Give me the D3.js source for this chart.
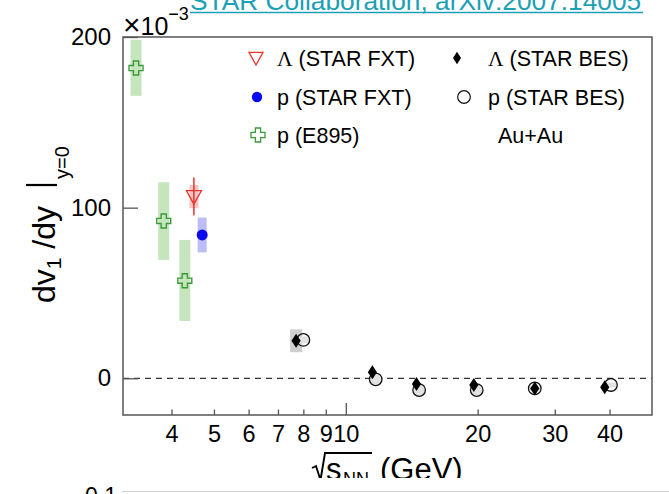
<!DOCTYPE html>
<html>
<head>
<meta charset="utf-8">
<script src="https://cdn.jsdelivr.net/npm/d3@7"></script>
<style>
  html, body { margin: 0; padding: 0; background: #fff; }
  svg { display: block; }
  text { font-family: "Liberation Sans", Arial, Helvetica, sans-serif; }
</style>
</head>
<body>
<svg id="chart" width="669" height="494"></svg>
<script>
// ---------------- data ----------------
const xTickValues = [4, 5, 6, 7, 8, 9, 10, 20, 30, 40];
const yTickValues = [0, 100, 200];

// E895 protons
const e895Energy = [3.32, 3.84, 4.29];
const e895Value  = [181.8, 92.2, 57.2];
const e895SysLo  = [165.5, 69.4, 33.6];
const e895SysHi  = [198.4, 114.9, 81.1];

// STAR FXT Lambda
const fxtLambdaEnergy = [4.5];
const fxtLambdaValue  = [106.5];
const fxtLambdaStat   = [11.1];
const fxtLambdaSys    = [6.8];

// STAR FXT proton
const fxtPEnergy = [4.7];
const fxtPValue  = [84.0];
const fxtPSys    = [10.2];

// STAR BES Lambda
const besLambdaEnergy = [7.7, 11.5, 14.5, 19.6, 27.0, 39.0];
const besLambdaValue  = [22.0, 3.5, -3.3, -3.9, -5.9, -5.3];
const besLambdaSys    = [6.7, 1.0, 1.0, 1.0, 1.0, 1.0];

// STAR BES proton
const besPEnergy = [8.0, 11.7, 14.7, 19.9, 27.0, 40.3];
const besPValue  = [22.5, -0.6, -6.9, -6.9, -5.9, -3.9];
const besPSys    = [2.0, 3.0, 3.5, 3.0, 1.5, 1.5];

const legendLeft  = ["\u039B (STAR FXT)", "p (STAR FXT)", "p (E895)"];
const legendRight = ["\u039B (STAR BES)", "p (STAR BES)", "Au+Au"];

// ---------------- layout ----------------
const L = 123, R = 652, T = 37, B = 415;
const svg = d3.select("#chart");
const x = d3.scaleLog().domain([3.1, 50]).range([L, R]);
const y = d3.scaleLinear().domain([-21.5, 200]).range([B, T]);

const green = "#3a9a3a", greenBox = "#c6e5bd";
const red = "#e8332c", redBox = "#f8c4c4";
const blue = "#0a0af0", blueBox = "#bcbcf6";

// top link text
svg.append("text")
  .attr("x", 190).attr("y", 9.5)
  .attr("font-size", 26.3).attr("fill", "#1ba0b6")
  .text("STAR Collaboration, arXiv:2007.14005");
svg.append("line").attr("x1", 190).attr("x2", 643).attr("y1", 12.5).attr("y2", 12.5)
  .attr("stroke", "#1ba0b6").attr("stroke-width", 1.6);

// clip for plot
svg.append("clipPath").attr("id", "clip").append("rect")
  .attr("x", L).attr("y", T).attr("width", R - L).attr("height", B - T);
const plot = svg.append("g").attr("clip-path", "url(#clip)");

// zero dashed line
plot.append("line").attr("x1", L).attr("x2", R).attr("y1", y(0)).attr("y2", y(0))
  .attr("stroke", "#000").attr("stroke-width", 1).attr("stroke-dasharray", "6,5");

// systematic boxes
function boxes(xs, lo, hi, w, color) {
  plot.append("g").selectAll("rect").data(xs).join("rect")
    .attr("x", d => x(d) - w / 2).attr("width", w)
    .attr("y", (d, i) => y(hi[i])).attr("height", (d, i) => y(lo[i]) - y(hi[i]))
    .attr("fill", color);
}
boxes(e895Energy, e895SysLo, e895SysHi, 11, greenBox);
boxes(fxtLambdaEnergy, fxtLambdaValue.map((v, i) => v - fxtLambdaSys[i]), fxtLambdaValue.map((v, i) => v + fxtLambdaSys[i]), 9, redBox);
boxes(fxtPEnergy, fxtPValue.map((v, i) => v - fxtPSys[i]), fxtPValue.map((v, i) => v + fxtPSys[i]), 9, blueBox);
boxes(besLambdaEnergy.slice(0, 1), besLambdaValue.slice(0, 1).map((v, i) => v - besLambdaSys[i]), besLambdaValue.slice(0, 1).map((v, i) => v + besLambdaSys[i]), 12, "#cfcfcf");
boxes(besPEnergy, besPValue.map((v, i) => v - besPSys[i]), besPValue.map((v, i) => v + besPSys[i]), 11, "#e2e2e2");

// stat error bar FXT Lambda
plot.append("g").selectAll("line").data(fxtLambdaEnergy).join("line")
  .attr("x1", d => x(d)).attr("x2", d => x(d))
  .attr("y1", (d, i) => y(fxtLambdaValue[i] + fxtLambdaStat[i]))
  .attr("y2", (d, i) => y(fxtLambdaValue[i] - fxtLambdaStat[i]))
  .attr("stroke", red).attr("stroke-width", 1.5);

// marker shapes
const crossPath = (h, a) => `M${-a},${-h}H${a}V${-a}H${h}V${a}H${a}V${h}H${-a}V${a}H${-h}V${-a}H${-a}Z`;
const triDown = s => `M${-s},${-s * 0.8}L${s},${-s * 0.8}L0,${s}Z`;
const diamond = (w, h) => `M0,${-h}L${w},0L0,${h}L${-w},0Z`;

// E895 crosses
plot.append("g").selectAll("path").data(e895Energy).join("path")
  .attr("transform", (d, i) => `translate(${x(d)},${y(e895Value[i])})`)
  .attr("d", crossPath(7, 2.6)).attr("fill", "none").attr("stroke", green).attr("stroke-width", 1.4);

// FXT Lambda triangle
plot.append("g").selectAll("path").data(fxtLambdaEnergy).join("path")
  .attr("transform", (d, i) => `translate(${x(d)},${y(fxtLambdaValue[i])})`)
  .attr("d", triDown(7.5)).attr("fill", "none").attr("stroke", red).attr("stroke-width", 1.3);

// FXT proton dot
plot.append("g").selectAll("circle").data(fxtPEnergy).join("circle")
  .attr("cx", d => x(d)).attr("cy", (d, i) => y(fxtPValue[i])).attr("r", 5.5).attr("fill", blue);

// BES proton circles
plot.append("g").selectAll("circle").data(besPEnergy).join("circle")
  .attr("cx", d => x(d)).attr("cy", (d, i) => y(besPValue[i])).attr("r", 6.3)
  .attr("fill", "none").attr("stroke", "#111").attr("stroke-width", 1.3);

// BES Lambda diamonds
plot.append("g").selectAll("path").data(besLambdaEnergy).join("path")
  .attr("transform", (d, i) => `translate(${x(d)},${y(besLambdaValue[i])})`)
  .attr("d", diamond(4.6, 7)).attr("fill", "#000");

// frame
svg.append("rect").attr("x", L).attr("y", T).attr("width", R - L).attr("height", B - T)
  .attr("fill", "none").attr("stroke", "#555").attr("stroke-width", 1.5);

// y axis
const yAxis = svg.append("g").attr("transform", `translate(${L},0)`)
  .call(d3.axisLeft(y).tickValues(yTickValues).tickSize(-15).tickPadding(12).tickFormat(d3.format("d")));
yAxis.select(".domain").remove();
yAxis.selectAll(".tick line").attr("stroke", "#555").attr("stroke-width", 1.3);
yAxis.selectAll("text").attr("font-size", 24).attr("fill", "#000")
  .attr("font-family", "'Liberation Sans', Arial, sans-serif");

// x axis
const xAxis = svg.append("g").attr("transform", `translate(0,${B})`)
  .call(d3.axisBottom(x).tickValues(xTickValues).tickSize(-5.5).tickPadding(10).tickFormat(d3.format("d")));
xAxis.select(".domain").remove();
xAxis.selectAll(".tick line").attr("stroke", "#555").attr("stroke-width", 1.3)
  .attr("y2", d => d === 10 ? -12 : -5.5);
xAxis.selectAll("text").attr("font-size", 23.5).attr("fill", "#000")
  .attr("font-family", "'Liberation Sans', Arial, sans-serif");

// x10^-3
const mult = svg.append("text").attr("x", 123).attr("y", 35).attr("font-size", 25);
mult.append("tspan").attr("font-size", 30).text("\u00D7");
mult.append("tspan").text("10");
mult.append("tspan").attr("font-size", 18).attr("dy", -15).text("\u22123");

// y title
const yt = svg.append("g").attr("transform", "translate(55,303) rotate(-90)");
const ytt = yt.append("text").attr("x", 0).attr("y", 0).attr("font-size", 32);
ytt.append("tspan").text("dv");
ytt.append("tspan").attr("font-size", 21).attr("dy", 6).text("1");
ytt.append("tspan").attr("dy", -6).text(" /dy");
yt.append("line").attr("x1", 118).attr("x2", 118).attr("y1", 2).attr("y2", -29)
  .attr("stroke", "#000").attr("stroke-width", 2.2);
yt.append("text").attr("x", 124).attr("y", 14).attr("font-size", 20).text("y=0");

// x title: radical drawn as a path, then text
svg.append("path").attr("d", "M312,468 L316,466 L320.5,480 L325,453 L372,453")
  .attr("fill", "none").attr("stroke", "#000").attr("stroke-width", 1.9).attr("stroke-linejoin", "miter");
svg.append("text").attr("x", 326).attr("y", 480).attr("font-size", 31).text("s");
svg.append("text").attr("x", 343).attr("y", 485).attr("font-size", 18).text("NN");
svg.append("text").attr("x", 380).attr("y", 480).attr("font-size", 31).text("(GeV)");

// lower panel overlap
svg.append("rect").attr("x", 0).attr("y", 478).attr("width", 669).attr("height", 16).attr("fill", "#fff");
svg.append("line").attr("x1", 122).attr("x2", 669).attr("y1", 491.5).attr("y2", 491.5)
  .attr("stroke", "#cfcfcf").attr("stroke-width", 1.2);
svg.append("text").attr("x", 85).attr("y", 504).attr("font-size", 23).text("0.1");

// legend
const legRowsY = [58, 97, 135];
const lg = svg.append("g");
lg.append("path").attr("transform", `translate(256,${legRowsY[0]})`).attr("d", triDown(7))
  .attr("fill", "none").attr("stroke", red).attr("stroke-width", 1.3);
lg.append("circle").attr("cx", 257).attr("cy", legRowsY[1]).attr("r", 5.2).attr("fill", blue);
lg.append("path").attr("transform", `translate(258,${legRowsY[2]})`).attr("d", crossPath(7, 2.6))
  .attr("fill", "none").attr("stroke", green).attr("stroke-width", 1.3);
lg.append("path").attr("transform", `translate(457,${legRowsY[0]})`).attr("d", diamond(4, 6.2)).attr("fill", "#000");
lg.append("circle").attr("cx", 464).attr("cy", legRowsY[1]).attr("r", 6.3)
  .attr("fill", "none").attr("stroke", "#111").attr("stroke-width", 1.2);

function legText(xp, yp, s) {
  const t = lg.append("text").attr("x", xp).attr("y", yp + 8).attr("font-size", 21.5);
  if (s.startsWith("\u039B")) {
    t.append("tspan").attr("font-family", "'Liberation Serif', 'DejaVu Serif', serif").text("\u039B");
    t.append("tspan").text(s.slice(1));
  } else {
    t.text(s);
  }
}
legendLeft.forEach((s, i) => legText(277, legRowsY[i], s));
legendRight.forEach((s, i) => legText(i === 2 ? 498 : 488, legRowsY[i], s));
</script>
</body>
</html>
